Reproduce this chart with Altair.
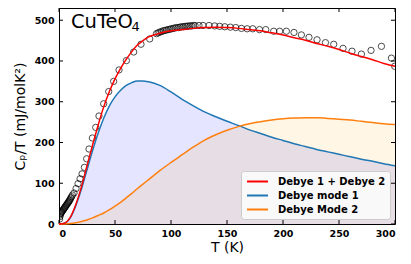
import altair as alt
import pandas as pd

# ---- fitted curves ----
T_fit = [0, 5, 10, 15, 20, 25, 30, 35, 40, 45, 50, 55, 60, 65, 70, 75, 80, 90, 100,
         110, 120, 130, 140, 150, 160, 170, 180, 190, 200, 210, 220, 230, 240, 250,
         260, 270, 280, 290, 300]
mode1 = [0, 2, 15, 45, 85, 133, 180, 223, 260, 290, 312, 328, 340, 347, 351, 351, 349,
         340, 324, 306, 290, 275, 263, 252, 242, 231, 222, 213, 205, 197, 190, 183, 177,
         171, 165, 159, 154, 148, 143]
mode2 = [0, 0.2, 1, 3, 6, 10, 15, 21, 27, 35, 44, 53, 64, 75, 87, 98, 109, 131, 151,
         170, 189, 206, 219, 230, 239, 246, 251, 255, 258, 260, 261, 261, 259, 257, 255,
         252, 249, 246, 244]
total = [0, 2, 16, 48, 91, 143, 194, 243, 288, 325, 356, 382, 404, 423, 439, 450, 459,
         468, 474, 477, 480, 482, 483, 482, 480, 477, 474, 469, 464, 457, 451, 443, 436,
         428, 419, 411, 403, 394, 387]

# ---- measured data (open circles) ----
T_data = [0.5, 0.8, 1.1, 1.4, 1.8, 2.2, 2.6, 3.0, 3.5, 4.0, 4.5, 5.0, 5.5, 6.0, 6.5,
          7.0, 7.5, 8.0, 8.5, 9.0, 9.5, 10.0, 10.6, 11.2, 12.0, 13.4, 15.2, 17.0, 18.8,
          20.6, 22.7, 24.7, 26.8, 29.8, 32.8, 35.7, 39.9, 44.4, 48.8, 53.6, 60.2, 66.7,
          73.2, 81.0, 87.0, 88.5, 90.0, 91.5, 93.0, 94.5, 96.0, 97.5, 99.0, 100.5, 102.0,
          103.5, 105.0, 106.5, 108.0, 109.5, 111.0, 112.5, 114.0, 115.5, 117.0, 118.5,
          120.0, 121.5, 125.0, 128.6, 134.0, 139.0, 143.5, 148.0, 153.0, 157.8, 162.9,
          168.0, 173.0, 179.0, 184.6, 191.7, 197.0, 203.0, 209.8, 216.4, 223.2, 230.4,
          237.9, 245.3, 253.6, 261.6, 270.0, 278.6, 287.9, 296.8, 299.7]
Cp_data = [12, 18, 22, 25, 27, 29, 30, 32, 34, 36, 38, 40, 42, 44, 46,
           48, 50, 52, 54, 56, 58, 61, 64, 67, 71, 76, 87, 99, 111,
           123, 139, 160, 184, 211, 237, 265, 295, 325, 350, 378, 401, 422,
           441, 454, 467, 469, 471, 472, 474, 475, 476, 477, 478, 479, 480,
           481, 482, 482, 483, 484, 484, 485, 485, 486, 486, 486,
           487, 487, 487, 487, 487, 486, 485, 484, 483, 482, 480,
           479, 479, 477, 477, 473, 473, 473, 470, 464, 458, 452,
           445, 441, 431, 424, 417, 426, 436, 407, 387]

# ---- axis tick values ----
x_ticks = [0, 50, 100, 150, 200, 250, 300]
y_ticks = [0, 100, 200, 300, 400, 500]

series_names = ["Debye 1 + Debye 2", "Debye mode 1", "Debye Mode 2"]
series_colors = ["#ff0000", "#1f77b4", "#ff7f0e"]

fit = pd.DataFrame({"T": T_fit, "m1": mode1, "m2": mode2})
long = pd.concat([
    pd.DataFrame({"T": T_fit, "v": mode1, "s": series_names[1], "o": 1}),
    pd.DataFrame({"T": T_fit, "v": mode2, "s": series_names[2], "o": 2}),
    pd.DataFrame({"T": T_fit, "v": total, "s": series_names[0], "o": 3}),
], ignore_index=True)
pts = pd.DataFrame({"T": T_data, "v": Cp_data})
lbl_main = pd.DataFrame({"t": ["CuTeO"]})
lbl_sub = pd.DataFrame({"t": ["4"]})
xt = pd.DataFrame({"T": x_ticks})
yt = pd.DataFrame({"v": y_ticks})

W, H = 336, 216
X0, X1, Y0, Y1 = 0, 300, 0, 530
xs = alt.Scale(domain=[X0, X1], nice=False, zero=False)
ys = alt.Scale(domain=[Y0, Y1], nice=False, zero=False)
# inward tick length of 4 px, expressed in data units
tx = 4 * (X1 - X0) / W
ty = 4 * (Y1 - Y0) / H

main_x = alt.Axis(values=x_ticks, ticks=False, domain=False, grid=False,
                  labelFontWeight="bold", labelFontSize=9.5, labelPadding=4,
                  labelColor="black", titleFontSize=14, titleFontWeight="normal",
                  titleColor="black", titlePadding=3)
main_y = alt.Axis(values=y_ticks, ticks=False, domain=False, grid=False,
                  labelFontWeight="bold", labelFontSize=9.5, labelPadding=5,
                  labelColor="black", titleFontSize=14, titleFontWeight="normal",
                  titleColor="black", titlePadding=7)

points = alt.Chart(pts).mark_point(shape="circle", filled=False, color="black",
                                   size=40, strokeWidth=1, clip=True).encode(
    x=alt.X("T:Q", scale=xs, title="T (K)", axis=main_x),
    y=alt.Y("v:Q", scale=ys, title="C\u209a/T (mJ/molK\u00b2)", axis=main_y),
)
area1 = alt.Chart(fit).mark_area(color="blue", opacity=0.1, interpolate="monotone").encode(
    x=alt.X("T:Q", scale=xs),
    y=alt.Y("m1:Q", scale=ys),
)
area2 = alt.Chart(fit).mark_area(color="orange", opacity=0.1, interpolate="monotone").encode(
    x=alt.X("T:Q", scale=xs),
    y=alt.Y("m2:Q", scale=ys),
)

# inward ticks on all four sides, placed through the shared scales
rule = dict(color="black", strokeWidth=1)
tick_bottom = alt.Chart(xt).mark_rule(**rule).encode(
    x=alt.X("T:Q", scale=xs),
    y=alt.YDatum(Y0, scale=ys), y2=alt.Y2Datum(Y0 + ty))
tick_top = alt.Chart(xt).mark_rule(**rule).encode(
    x=alt.X("T:Q", scale=xs),
    y=alt.YDatum(Y1 - ty, scale=ys), y2=alt.Y2Datum(Y1))
tick_left = alt.Chart(yt).mark_rule(**rule).encode(
    y=alt.Y("v:Q", scale=ys),
    x=alt.XDatum(X0, scale=xs), x2=alt.X2Datum(X0 + tx))
tick_right = alt.Chart(yt).mark_rule(**rule).encode(
    y=alt.Y("v:Q", scale=ys),
    x=alt.XDatum(X1 - tx, scale=xs), x2=alt.X2Datum(X1))

lines = alt.Chart(long).mark_line(strokeWidth=1.5, interpolate="monotone").encode(
    x=alt.X("T:Q", scale=xs),
    y=alt.Y("v:Q", scale=ys),
    color=alt.Color("s:N", scale=alt.Scale(domain=series_names, range=series_colors),
                    legend=alt.Legend(title=None, orient="bottom-right", offset=5,
                                      symbolType="M-2,0H2", symbolStrokeWidth=2,
                                      symbolSize=110, symbolOffset=6,
                                      labelOffset=14, labelFontSize=10,
                                      labelFontWeight="bold", labelColor="black",
                                      padding=4, rowPadding=2,
                                      fillColor="rgba(255,255,255,0.8)",
                                      strokeColor="#cccccc", cornerRadius=3)),
    order=alt.Order("o:Q"),
)
label = alt.Chart(lbl_main).mark_text(align="left", baseline="alphabetic", fontSize=19.5,
                                      color="black").encode(
    text="t:N", x=alt.value(12), y=alt.value(20))
label_sub = alt.Chart(lbl_sub).mark_text(align="left", baseline="alphabetic", fontSize=13,
                                         color="black").encode(
    text="t:N", x=alt.value(72.5), y=alt.value(23))

chart = alt.layer(points, area1, area2, tick_bottom, tick_top, tick_left, tick_right,
                  lines, label, label_sub).properties(
    width=W, height=H,
    autosize=alt.AutoSizeParams(type="none"),
    padding={"left": 51, "top": 0, "right": 8, "bottom": 32},
).configure(font="DejaVu Sans").configure_view(stroke="black", strokeWidth=1)

chart.save("out.html", embed_options={"renderer": "svg", "actions": False})
